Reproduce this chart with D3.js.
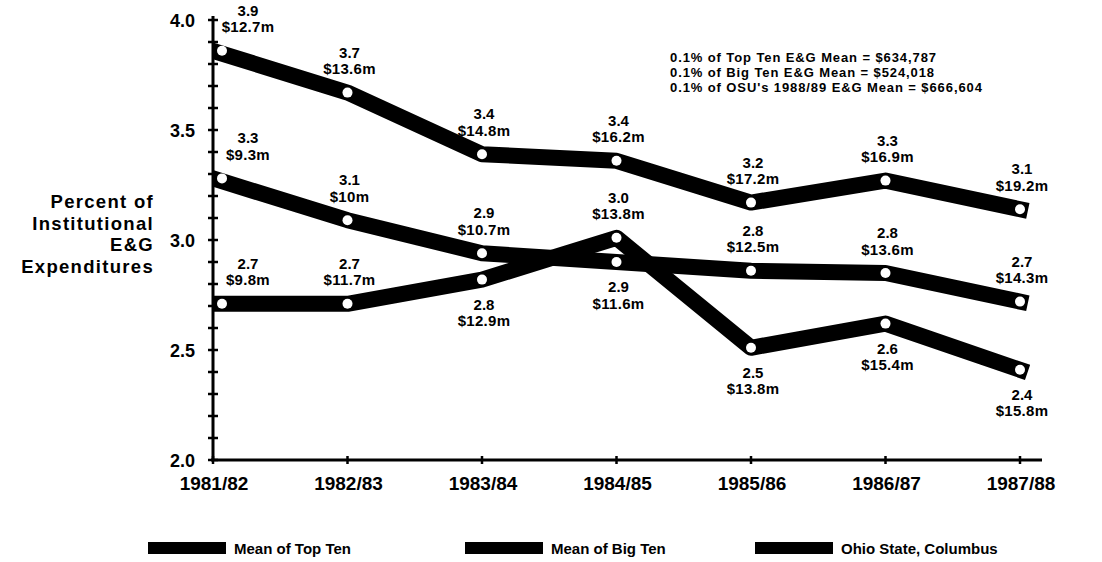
<!DOCTYPE html>
<html><head><meta charset="utf-8">
<script src="https://cdn.jsdelivr.net/npm/d3@7"></script>
<style>
body{margin:0;background:#fff;}
text{font-family:"Liberation Sans",Arial,Helvetica,sans-serif;font-weight:bold;fill:#000;}
</style></head>
<body><svg id="c" width="1102" height="562"></svg>
<script>
const categories = ["1981/82","1982/83","1983/84","1984/85","1985/86","1986/87","1987/88"];
const seriesNames = ["Mean of Top Ten","Mean of Big Ten","Ohio State, Columbus"];
const topTen = [3.86,3.67,3.39,3.36,3.17,3.27,3.14];
const bigTen = [3.28,3.09,2.94,2.90,2.86,2.85,2.72];
const ohioState = [2.71,2.71,2.82,3.01,2.51,2.62,2.41];
const topTenPct = ["3.9","3.7","3.4","3.4","3.2","3.3","3.1"];
const topTenDollars = ["$12.7m","$13.6m","$14.8m","$16.2m","$17.2m","$16.9m","$19.2m"];
const bigTenPct = ["3.3","3.1","2.9","2.9","2.8","2.8","2.7"];
const bigTenDollars = ["$9.3m","$10m","$10.7m","$11.6m","$12.5m","$13.6m","$14.3m"];
const ohioPct = ["2.7","2.7","2.8","3.0","2.5","2.6","2.4"];
const ohioDollars = ["$9.8m","$11.7m","$12.9m","$13.8m","$13.8m","$15.4m","$15.8m"];
const topTenSide = ["above","above","above","above","above","above","above"];
const bigTenSide = ["above","above","above","below","above","above","above"];
const ohioSide = ["above","above","below","above","below","below","below"];
const yTicks = [2.0,2.5,3.0,3.5,4.0];
const notes = ["0.1% of Top Ten E&G Mean = $634,787","0.1% of Big Ten E&G Mean = $524,018","0.1% of OSU's 1988/89 E&G Mean = $666,604"];
const yTitle = ["Percent of","Institutional","E&G","Expenditures"];

const svg = d3.select("#c");
const x = d3.scalePoint().domain(categories).range([213,1020]);
const y = d3.scaleLinear().domain([2,4]).range([460,20]);

svg.append("defs").append("clipPath").attr("id","plot")
  .append("rect").attr("x",213).attr("y",0).attr("width",880).attr("height",562);

// y axis
const yAxis = svg.append("g").attr("transform","translate(213,0)");
yAxis.append("line").attr("x1",0).attr("x2",0).attr("y1",y(4)-4).attr("y2",y(2)+1).attr("stroke","#000").attr("stroke-width",3);
const minor = d3.range(20,41).map(d=>d/10);
yAxis.selectAll("line.mt").data(minor).join("line").attr("class","mt")
  .attr("x1",-5).attr("x2",5).attr("y1",d=>y(d)).attr("y2",d=>y(d)).attr("stroke","#000").attr("stroke-width",2.5);
yAxis.selectAll("text").data(yTicks).join("text")
  .attr("x",-18).attr("y",d=>y(d)+6.5).attr("text-anchor","end").attr("font-size",18).text(d=>d.toFixed(1));

// x axis
const xAxis = svg.append("g").attr("transform","translate(0,460)");
xAxis.append("line").attr("x1",211).attr("x2",1042).attr("y1",0).attr("y2",0).attr("stroke","#000").attr("stroke-width",3);
xAxis.selectAll("line.xt").data(categories).join("line").attr("class","xt")
  .attr("x1",d=>x(d)).attr("x2",d=>x(d)).attr("y1",-4).attr("y2",4).attr("stroke","#000").attr("stroke-width",2.5);
xAxis.selectAll("text").data(categories).join("text")
  .attr("x",d=>x(d)+1).attr("y",30).attr("text-anchor","middle").attr("font-size",19).text(d=>d);

// y title
svg.append("g").selectAll("text").data(yTitle).join("text")
  .attr("x",154).attr("y",(d,i)=>208+i*21.5).attr("text-anchor","end")
  .attr("font-size",18.5).attr("letter-spacing",1.3).text(d=>d);

// notes
svg.append("g").selectAll("text").data(notes).join("text")
  .attr("x",670).attr("y",(d,i)=>62+i*15).attr("font-size",13).attr("letter-spacing",0.9).text(d=>d);

const series = [
  {vals:topTen,pct:topTenPct,dol:topTenDollars,side:topTenSide},
  {vals:bigTen,pct:bigTenPct,dol:bigTenDollars,side:bigTenSide},
  {vals:ohioState,pct:ohioPct,dol:ohioDollars,side:ohioSide}
];
const line = d3.line().x((d,i)=>x(categories[i])).y(d=>y(d));
const lines = svg.append("g").attr("clip-path","url(#plot)");
series.forEach(s=>{
  lines.append("path").attr("d",line(s.vals)).attr("fill","none").attr("stroke","#000")
    .attr("stroke-width",16).attr("stroke-linejoin","round").attr("stroke-linecap","square");
});
series.forEach(s=>{
  svg.append("g").selectAll("circle").data(s.vals).join("circle")
    .attr("cx",(d,i)=>x(categories[i])+(i===0?9:0)).attr("cy",d=>y(d)).attr("r",5).attr("fill","#fff");
});
series.forEach(s=>{
  const g = svg.append("g");
  s.vals.forEach((v,i)=>{
    const cx = x(categories[i]) + (i===0?35:2);
    const py = y(v);
    const b1 = s.side[i]==="above" ? py-35 : py+30;
    g.append("text").attr("x",cx).attr("y",b1).attr("text-anchor","middle").attr("font-size",15).text(s.pct[i]);
    g.append("text").attr("x",cx).attr("y",b1+16.5).attr("text-anchor","middle").attr("font-size",15).attr("letter-spacing",0.3).text(s.dol[i]);
  });
});

// legend
const legX = [148,465,755];
const leg = svg.append("g");
seriesNames.forEach((n,i)=>{
  leg.append("rect").attr("x",legX[i]).attr("y",542).attr("width",78).attr("height",12).attr("fill","#000");
  leg.append("text").attr("x",legX[i]+86).attr("y",554).attr("font-size",15).text(n);
});
</script></body></html>
